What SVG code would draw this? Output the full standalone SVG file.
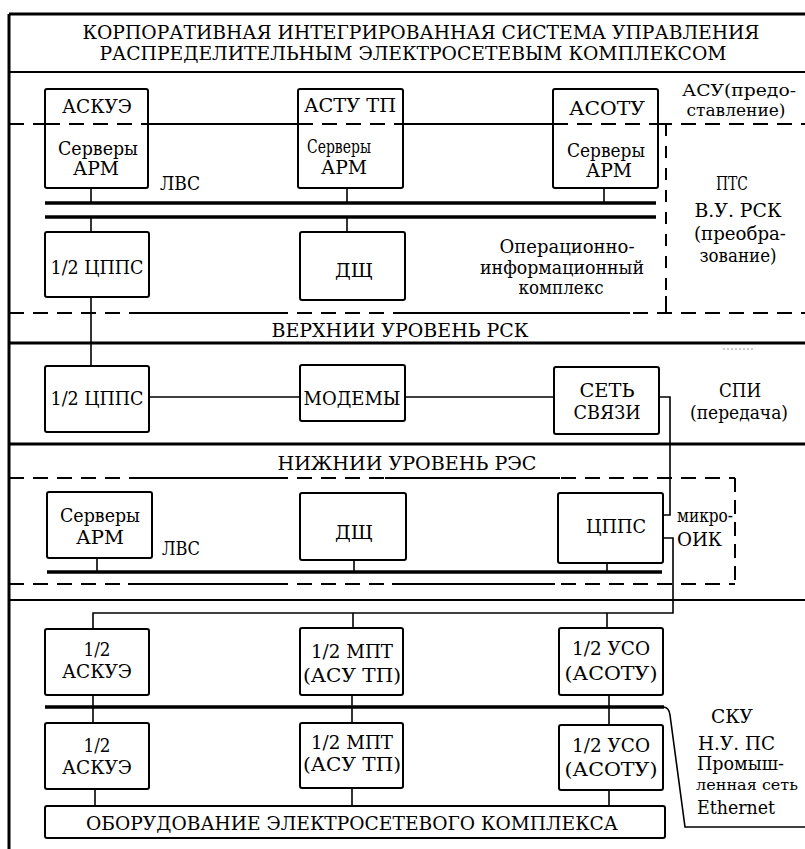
<svg xmlns="http://www.w3.org/2000/svg" width="805" height="849" viewBox="0 0 805 849">
<style>
.bg{fill:#fff}
.box{fill:#fff;stroke:#000;stroke-width:2}
.ln{stroke:#000;stroke-width:1.6;fill:none}
.sec{stroke:#000;stroke-width:3;fill:none}
.bus{stroke:#000;stroke-width:3.5;fill:none}
.dash{stroke:#000;stroke-width:2;stroke-dasharray:15 9;fill:none}
.sol{stroke:#000;stroke-width:2;fill:none}
.t{font-family:"DejaVu Serif","Liberation Serif",serif;font-size:18.5px;text-anchor:middle;dominant-baseline:central;fill:#000}
.s{text-anchor:start}
.sm{font-size:16.5px}
.xs{font-size:15px}
</style>
<rect class="bg" x="0" y="0" width="805" height="849"/>

<g id="frame">
  <line class="sec" x1="9" y1="14" x2="805" y2="14"/>
  <line class="sec" x1="9" y1="14" x2="9" y2="849"/>
  <line class="sol" x1="9" y1="72" x2="805" y2="72"/>
  <line class="sec" x1="9" y1="343" x2="805" y2="343"/>
  <line class="sec" x1="9" y1="444" x2="805" y2="444"/>
  <line class="sol" x1="9" y1="600" x2="805" y2="600"/>
  <text class="t" x="421" y="32" textLength="677" lengthAdjust="spacingAndGlyphs">КОРПОРАТИВНАЯ ИНТЕГРИРОВАННАЯ СИСТЕМА УПРАВЛЕНИЯ</text>
  <text class="t" x="413" y="53" textLength="627" lengthAdjust="spacingAndGlyphs">РАСПРЕДЕЛИТЕЛЬНЫМ ЭЛЕКТРОСЕТЕВЫМ КОМПЛЕКСОМ</text>
</g>

<g id="zones">
  <line class="dash" x1="9" y1="124" x2="805" y2="124"/>
  <line class="sol" x1="133" y1="124" x2="298" y2="124"/>
  <line class="sol" x1="403" y1="124" x2="553" y2="124"/>
  <line class="sol" x1="658" y1="124" x2="666" y2="124"/>
  <line class="dash" x1="666" y1="124" x2="666" y2="313" style="stroke-dasharray:12 10"/>
  <line class="dash" x1="9" y1="313" x2="805" y2="313"/>
  <line class="sol" x1="133" y1="313" x2="285" y2="313"/>
  <line class="sol" x1="395" y1="313" x2="630" y2="313"/>
  <line class="sol" x1="666" y1="296" x2="666" y2="313"/>
  <text class="t" x="400" y="330" textLength="257" lengthAdjust="spacingAndGlyphs">ВЕРХНИИ УРОВЕНЬ РСК</text>
  <text class="t" x="567" y="246" textLength="135" lengthAdjust="spacingAndGlyphs">Операционно-</text>
  <text class="t" x="562" y="267" textLength="164" lengthAdjust="spacingAndGlyphs">информационный</text>
  <text class="t" x="561" y="287" textLength="85" lengthAdjust="spacingAndGlyphs">комплекс</text>
  <text class="t s sm" x="682" y="90" textLength="114" lengthAdjust="spacingAndGlyphs">АСУ(предо-</text>
  <text class="t sm" x="736" y="110" textLength="99" lengthAdjust="spacingAndGlyphs">ставление)</text>
  <text class="t" x="732" y="183" textLength="32" lengthAdjust="spacingAndGlyphs">ПТС</text>
  <text class="t" x="738" y="210" textLength="87" lengthAdjust="spacingAndGlyphs">В.У. РСК</text>
  <text class="t" x="740" y="233" textLength="92" lengthAdjust="spacingAndGlyphs">(преобра-</text>
  <text class="t" x="738" y="255" textLength="77" lengthAdjust="spacingAndGlyphs">зование)</text>
  <line x1="723" y1="349" x2="753" y2="349" stroke="#999" stroke-width="1" stroke-dasharray="2 2"/>
  <text class="t" x="740" y="390" textLength="42" lengthAdjust="spacingAndGlyphs">СПИ</text>
  <text class="t" x="739" y="412" textLength="98" lengthAdjust="spacingAndGlyphs">(передача)</text>
  <text class="t" x="407" y="463" textLength="259" lengthAdjust="spacingAndGlyphs">НИЖНИИ УРОВЕНЬ РЭС</text>
  <line class="dash" x1="9" y1="478" x2="735" y2="478"/>
  <line class="sol" x1="132" y1="478" x2="280" y2="478"/>
  <line class="sol" x1="385" y1="478" x2="560" y2="478"/>
  <line class="dash" x1="735" y1="478" x2="735" y2="584" style="stroke-dasharray:14 8"/>
  <line class="dash" x1="9" y1="584" x2="735" y2="584"/>
  <line class="sol" x1="128" y1="584" x2="282" y2="584"/>
  <line class="sol" x1="392" y1="584" x2="555" y2="584"/>
  <text class="t s" x="677" y="515" textLength="56" lengthAdjust="spacingAndGlyphs">микро-</text>
  <text class="t s" x="677" y="539" textLength="45" lengthAdjust="spacingAndGlyphs">ОИК</text>
  <text class="t" x="732" y="716" textLength="42" lengthAdjust="spacingAndGlyphs">СКУ</text>
  <text class="t s" x="698" y="743" textLength="77" lengthAdjust="spacingAndGlyphs">Н.У. ПС</text>
  <text class="t s" x="697" y="763" textLength="87" lengthAdjust="spacingAndGlyphs">Промыш-</text>
  <text class="t s xs" x="696" y="785" textLength="102" lengthAdjust="spacingAndGlyphs">ленная сеть</text>
  <text class="t s" x="697" y="807" textLength="78" lengthAdjust="spacingAndGlyphs">Ethernet</text>
</g>

<g id="connectors">
  <line class="bus" x1="45" y1="203" x2="656" y2="203"/>
  <line class="bus" x1="45" y1="217" x2="656" y2="217"/>
  <line class="ln" x1="91" y1="188" x2="91" y2="203"/>
  <line class="ln" x1="91" y1="217" x2="91" y2="232"/>
  <line class="ln" x1="91" y1="297" x2="91" y2="366"/>
  <line class="ln" x1="347" y1="188" x2="347" y2="203"/>
  <line class="ln" x1="347" y1="217" x2="347" y2="232"/>
  <line class="ln" x1="604" y1="188" x2="604" y2="203"/>
  <line class="ln" x1="149" y1="397" x2="300" y2="397"/>
  <line class="ln" x1="405" y1="397" x2="554" y2="397"/>
  <path class="ln" d="M659 397 H670 V515 H663"/>
  <path class="ln" d="M663 538 H673 V613 H93 V629"/>
  <line class="ln" x1="353" y1="613" x2="353" y2="628"/>
  <line class="ln" x1="607" y1="613" x2="607" y2="628"/>
  <line class="bus" x1="47" y1="572" x2="662" y2="572"/>
  <line class="ln" x1="97" y1="558" x2="97" y2="572"/>
  <line class="ln" x1="354" y1="560" x2="354" y2="572"/>
  <line class="ln" x1="607" y1="563" x2="607" y2="572"/>
  <line class="bus" x1="45" y1="707" x2="664" y2="707"/>
  <path class="ln" d="M663 707 Q669 707 670 715 L685 827 H805"/>
  <line class="ln" x1="93" y1="695" x2="93" y2="723"/>
  <line class="ln" x1="352" y1="695" x2="352" y2="723"/>
  <line class="ln" x1="609" y1="695" x2="609" y2="725"/>
  <line class="ln" x1="95" y1="789" x2="95" y2="806"/>
  <line class="ln" x1="352" y1="788" x2="352" y2="806"/>
  <line class="ln" x1="609" y1="790" x2="609" y2="806"/>
</g>

<g id="askue">
  <rect class="box" x="45" y="89" width="103" height="99" rx="2"/>
  <line class="dash" x1="45" y1="124" x2="148" y2="124"/>
  <text class="t" x="97" y="106" textLength="70" lengthAdjust="spacingAndGlyphs">АСКУЭ</text>
  <text class="t" x="98" y="148" textLength="80" lengthAdjust="spacingAndGlyphs">Серверы</text>
  <text class="t" x="96" y="168" textLength="46" lengthAdjust="spacingAndGlyphs">АРМ</text>
</g>
<text class="t" x="180" y="183" textLength="40" lengthAdjust="spacingAndGlyphs">ЛВС</text>
<g id="astu">
  <rect class="box" x="298" y="89" width="105" height="99" rx="2"/>
  <line class="dash" x1="298" y1="124" x2="403" y2="124"/>
  <text class="t" x="350" y="105" textLength="92" lengthAdjust="spacingAndGlyphs">АСТУ ТП</text>
  <text class="t" x="339" y="146" textLength="64" lengthAdjust="spacingAndGlyphs">Серверы</text>
  <text class="t" x="344" y="167" textLength="46" lengthAdjust="spacingAndGlyphs">АРМ</text>
</g>
<g id="asotu">
  <rect class="box" x="553" y="89" width="105" height="99" rx="2"/>
  <line class="dash" x1="553" y1="124" x2="658" y2="124"/>
  <text class="t" x="607" y="108" textLength="76" lengthAdjust="spacingAndGlyphs">АСОТУ</text>
  <text class="t" x="606" y="150" textLength="78" lengthAdjust="spacingAndGlyphs">Серверы</text>
  <text class="t" x="609" y="170" textLength="46" lengthAdjust="spacingAndGlyphs">АРМ</text>
</g>
<g id="cpps-top">
  <rect class="box" x="45" y="232" width="104" height="65" rx="2"/>
  <text class="t" x="97" y="267" textLength="93" lengthAdjust="spacingAndGlyphs">1/2 ЦППС</text>
</g>
<g id="dsh-top">
  <rect class="box" x="300" y="232" width="105" height="68" rx="2"/>
  <text class="t" x="354" y="270" textLength="38" lengthAdjust="spacingAndGlyphs">ДЩ</text>
</g>
<g id="cpps-mid">
  <rect class="box" x="45" y="366" width="104" height="66" rx="2"/>
  <text class="t" x="97" y="398" textLength="93" lengthAdjust="spacingAndGlyphs">1/2 ЦППС</text>
</g>
<g id="modems">
  <rect class="box" x="300" y="365" width="105" height="56" rx="2"/>
  <text class="t" x="352" y="398" textLength="97" lengthAdjust="spacingAndGlyphs">МОДЕМЫ</text>
</g>
<g id="network">
  <rect class="box" x="554" y="367" width="105" height="67" rx="2"/>
  <text class="t" x="607" y="390" textLength="55" lengthAdjust="spacingAndGlyphs">СЕТЬ</text>
  <text class="t" x="607" y="412" textLength="67" lengthAdjust="spacingAndGlyphs">СВЯЗИ</text>
</g>
<g id="servers-low">
  <rect class="box" x="47" y="492" width="105" height="66" rx="2"/>
  <text class="t" x="100" y="515" textLength="80" lengthAdjust="spacingAndGlyphs">Серверы</text>
  <text class="t" x="100" y="537" textLength="48" lengthAdjust="spacingAndGlyphs">АРМ</text>
</g>
<text class="t" x="181" y="548" textLength="38" lengthAdjust="spacingAndGlyphs">ЛВС</text>
<g id="dsh-low">
  <rect class="box" x="300" y="493" width="106" height="67" rx="2"/>
  <text class="t" x="354" y="532" textLength="38" lengthAdjust="spacingAndGlyphs">ДЩ</text>
</g>
<g id="cpps-low">
  <rect class="box" x="558" y="493" width="105" height="70" rx="2"/>
  <text class="t" x="616" y="526" textLength="60" lengthAdjust="spacingAndGlyphs">ЦППС</text>
</g>
<g id="askue-1">
  <rect class="box" x="45" y="629" width="104" height="66" rx="2"/>
  <text class="t" x="97" y="649" textLength="27" lengthAdjust="spacingAndGlyphs">1/2</text>
  <text class="t" x="97" y="671" textLength="70" lengthAdjust="spacingAndGlyphs">АСКУЭ</text>
</g>
<g id="mpt-1">
  <rect class="box" x="300" y="628" width="103" height="67" rx="2"/>
  <text class="t" x="352" y="651" textLength="82" lengthAdjust="spacingAndGlyphs">1/2 МПТ</text>
  <text class="t" x="352" y="675" textLength="98" lengthAdjust="spacingAndGlyphs">(АСУ ТП)</text>
</g>
<g id="uso-1">
  <rect class="box" x="559" y="628" width="104" height="67" rx="2"/>
  <text class="t" x="611" y="648" textLength="78" lengthAdjust="spacingAndGlyphs">1/2 УСО</text>
  <text class="t" x="611" y="673" textLength="93" lengthAdjust="spacingAndGlyphs">(АСОТУ)</text>
</g>
<g id="askue-2">
  <rect class="box" x="45" y="723" width="104" height="66" rx="2"/>
  <text class="t" x="97" y="745" textLength="27" lengthAdjust="spacingAndGlyphs">1/2</text>
  <text class="t" x="97" y="767" textLength="70" lengthAdjust="spacingAndGlyphs">АСКУЭ</text>
</g>
<g id="mpt-2">
  <rect class="box" x="300" y="723" width="103" height="65" rx="2"/>
  <text class="t" x="352" y="742" textLength="82" lengthAdjust="spacingAndGlyphs">1/2 МПТ</text>
  <text class="t" x="352" y="764" textLength="98" lengthAdjust="spacingAndGlyphs">(АСУ ТП)</text>
</g>
<g id="uso-2">
  <rect class="box" x="559" y="725" width="104" height="65" rx="2"/>
  <text class="t" x="611" y="745" textLength="78" lengthAdjust="spacingAndGlyphs">1/2 УСО</text>
  <text class="t" x="611" y="769" textLength="93" lengthAdjust="spacingAndGlyphs">(АСОТУ)</text>
</g>
<g id="equipment">
  <rect class="box" x="45" y="806" width="620" height="32" rx="2"/>
  <text class="t" x="352" y="823" textLength="532" lengthAdjust="spacingAndGlyphs">ОБОРУДОВАНИЕ ЭЛЕКТРОСЕТЕВОГО КОМПЛЕКСА</text>
</g>
</svg>
